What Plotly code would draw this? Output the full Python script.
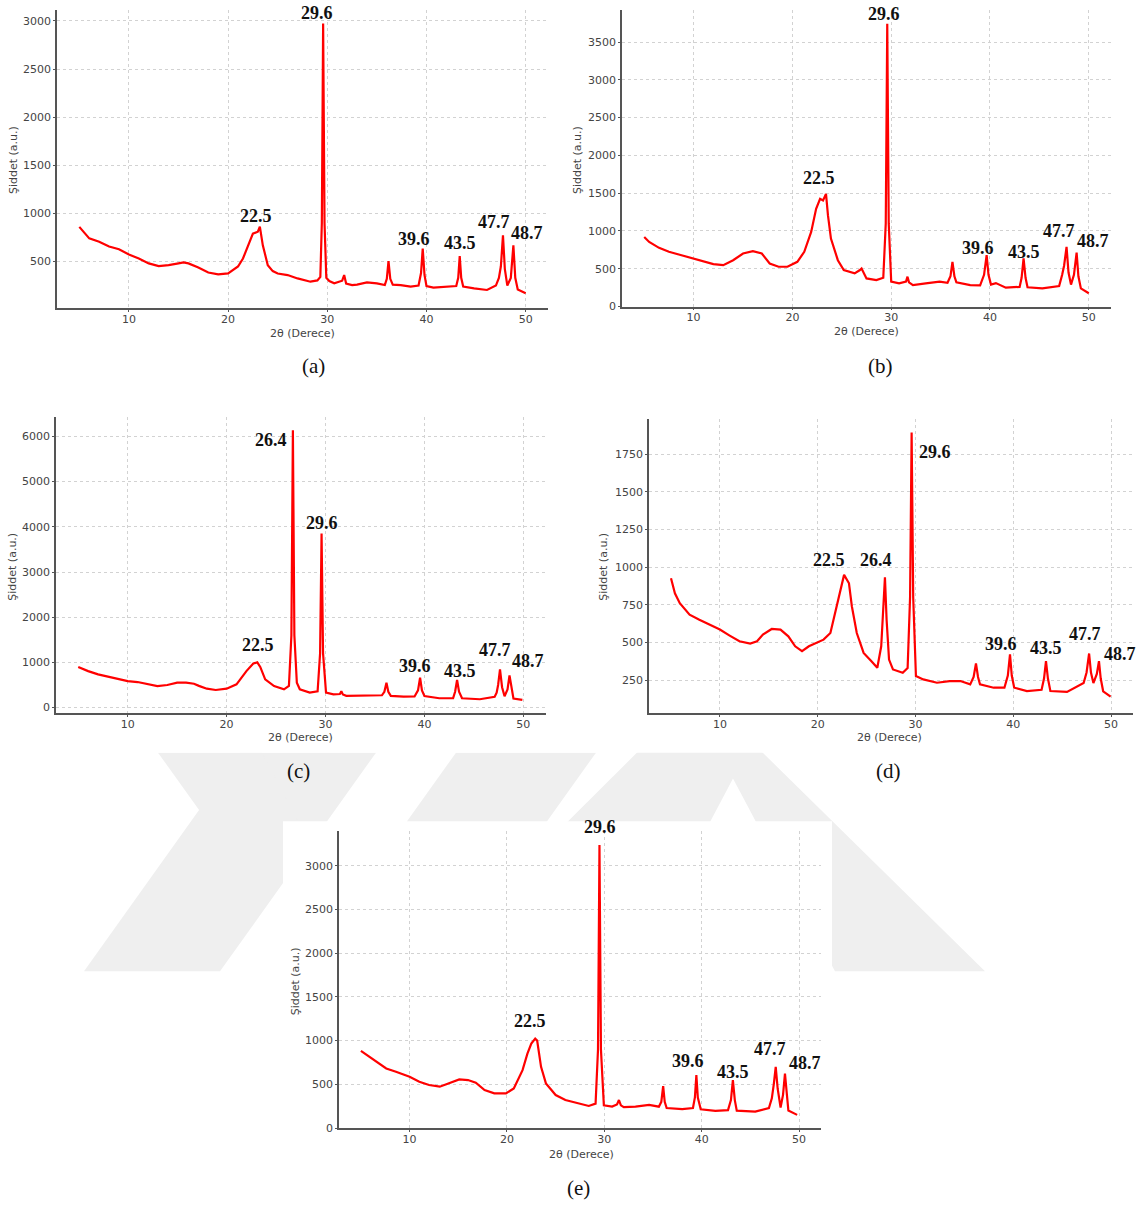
import plotly.graph_objects as go

W, H = 1147, 1212

# ---------------- data ----------------
theta_a = [5.0, 5.5, 6, 7, 8, 9, 10, 11, 12, 13, 14, 15, 15.5, 16, 17, 18, 19, 20, 21, 21.5, 22, 22.5, 23, 23.2, 23.5, 24, 24.5, 25, 26, 27, 28.3, 29.0, 29.3, 29.45, 29.58, 29.72, 29.9, 30.2, 30.7, 31.5, 31.7, 31.9, 32.5, 33.0, 34.0, 35.0, 35.8, 36.0, 36.17, 36.35, 36.6, 37.4, 38.4, 39.2, 39.45, 39.62, 39.8, 40.0, 40.7, 42.1, 43.0, 43.2, 43.35, 43.5, 43.7, 44.8, 46.1, 47.0, 47.3, 47.5, 47.71, 47.9, 48.15, 48.5, 48.76, 48.95, 49.2, 50.0]
int_a = [860, 800, 740, 706, 655, 627, 572, 531, 480, 452, 462, 480, 490, 480, 438, 386, 366, 376, 448, 531, 668, 789, 810, 862, 668, 462, 400, 375, 359, 324, 290, 303, 340, 900, 2973, 900, 330, 297, 273, 300, 359, 270, 255, 260, 283, 273, 255, 320, 503, 320, 260, 255, 238, 250, 380, 634, 360, 245, 228, 238, 245, 330, 555, 330, 240, 221, 204, 250, 330, 450, 772, 420, 250, 330, 668, 330, 210, 170]

theta_b = [5.0, 5.5, 6.5, 7.5, 8.5, 10, 11, 12, 13, 14, 15, 16, 16.9, 17.7, 18.6, 19.5, 20.5, 21.2, 21.9, 22.4, 22.8, 23.1, 23.4, 23.6, 23.9, 24.6, 25.2, 26.3, 26.8, 27.0, 27.5, 28.5, 29.2, 29.45, 29.6, 29.75, 30.0, 30.8, 31.5, 31.65, 31.8, 32.2, 33.5, 34.9, 35.7, 36.0, 36.2, 36.4, 36.6, 38.0, 39.0, 39.4, 39.66, 39.85, 40.1, 40.6, 41.6, 43.0, 43.2, 43.4, 43.6, 43.8, 45.3, 47.0, 47.3, 47.5, 47.75, 47.95, 48.2, 48.5, 48.77, 48.95, 49.2, 50.0]
int_b = [920, 855, 776, 724, 688, 635, 592, 561, 548, 613, 701, 732, 701, 570, 526, 526, 592, 724, 987, 1293, 1425, 1403, 1491, 1205, 899, 613, 482, 438, 480, 504, 372, 350, 380, 1100, 3741, 1100, 329, 307, 330, 395, 320, 284, 307, 329, 315, 400, 592, 400, 320, 284, 280, 420, 679, 420, 290, 310, 250, 260, 380, 636, 380, 255, 241, 270, 416, 540, 789, 450, 290, 420, 714, 400, 240, 175]

theta_c = [5.0, 6, 7, 8, 9, 10, 11, 12, 13, 14, 15, 15.9, 16.7, 17.2, 18, 18.9, 20, 21, 22, 22.7, 23.1, 23.4, 23.9, 24.8, 25.8, 26.3, 26.55, 26.7, 26.85, 27.1, 27.4, 28.4, 29.2, 29.45, 29.6, 29.75, 30.05, 30.8, 31.45, 31.6, 31.75, 32.1, 33.4, 34.8, 35.7, 35.95, 36.16, 36.35, 36.6, 37.9, 39.0, 39.35, 39.56, 39.75, 40.0, 41.5, 42.9, 43.1, 43.3, 43.5, 43.8, 45.6, 47.1, 47.3, 47.45, 47.64, 47.85, 48.1, 48.4, 48.6, 48.8, 49.0, 49.9]
int_c = [900, 807, 734, 682, 624, 587, 565, 514, 477, 499, 550, 550, 528, 480, 418, 389, 418, 514, 807, 976, 1000, 900, 624, 477, 404, 480, 1600, 6139, 1600, 550, 404, 330, 360, 1200, 3850, 1200, 330, 294, 300, 360, 290, 260, 270, 270, 272, 350, 550, 350, 260, 242, 245, 380, 660, 380, 255, 206, 210, 350, 609, 350, 206, 184, 240, 330, 500, 844, 450, 250, 400, 712, 400, 200, 169]

theta_d = [5.0, 5.4, 5.9, 6.9, 7.9, 8.9, 10, 11, 12, 13.1, 13.8, 14.4, 15.3, 16.2, 17.0, 17.7, 18.4, 19.1, 19.9, 20.6, 21.3, 21.8, 22.3, 22.7, 23.2, 23.5, 24.0, 24.7, 25.5, 26.1, 26.5, 26.7, 26.88, 27.05, 27.3, 27.7, 28.7, 29.2, 29.45, 29.61, 29.77, 30.05, 30.8, 32.2, 33.5, 34.6, 35.6, 35.95, 36.19, 36.4, 36.6, 38.0, 39.1, 39.45, 39.67, 39.85, 40.1, 41.4, 42.9, 43.15, 43.35, 43.55, 43.8, 45.5, 47.2, 47.5, 47.76, 47.95, 48.2, 48.55, 48.77, 48.95, 49.2, 49.96]
int_d = [925, 826, 760, 684, 650, 617, 585, 545, 507, 492, 507, 552, 589, 585, 540, 474, 441, 474, 496, 518, 562, 694, 837, 948, 892, 738, 562, 430, 375, 331, 474, 700, 932, 650, 386, 320, 298, 330, 800, 1893, 800, 276, 254, 232, 243, 243, 221, 270, 360, 270, 221, 199, 199, 280, 420, 280, 199, 177, 185, 260, 375, 260, 177, 171, 230, 300, 426, 300, 230, 290, 375, 260, 175, 140]

theta_e = [5.0, 5.5, 6.5, 7.6, 8.6, 10, 11, 12, 13.1, 14.1, 15.1, 16.0, 16.8, 17.7, 18.7, 19.9, 20.7, 21.6, 22.1, 22.5, 22.9, 23.1, 23.5, 24.0, 24.3, 25.0, 26.0, 27.4, 28.4, 29.1, 29.35, 29.5, 29.65, 29.95, 30.8, 31.3, 31.5, 31.7, 32.0, 33.2, 34.6, 35.6, 35.85, 36.04, 36.2, 36.4, 38.0, 39.1, 39.3, 39.45, 39.6, 39.9, 41.4, 42.7, 43.0, 43.2, 43.4, 43.6, 45.5, 46.9, 47.2, 47.4, 47.6, 47.8, 48.1, 48.35, 48.55, 48.75, 48.9, 49.8]
int_e = [882, 844, 775, 681, 644, 587, 530, 492, 473, 511, 556, 549, 519, 435, 397, 397, 454, 662, 851, 965, 1022, 1000, 700, 511, 473, 378, 321, 284, 253, 280, 900, 3235, 900, 260, 246, 270, 321, 260, 240, 245, 265, 245, 300, 481, 300, 230, 216, 230, 350, 605, 350, 215, 197, 205, 320, 549, 320, 200, 189, 230, 340, 500, 700, 450, 235, 380, 624, 380, 200, 151]

x_ticks = [10, 20, 30, 40, 50]
y_ticks_a = [500, 1000, 1500, 2000, 2500, 3000]
y_ticks_b = [0, 500, 1000, 1500, 2000, 2500, 3000, 3500]
y_ticks_c = [0, 1000, 2000, 3000, 4000, 5000, 6000]
y_ticks_d = [250, 500, 750, 1000, 1250, 1500, 1750]
y_ticks_e = [0, 500, 1000, 1500, 2000, 2500, 3000]

labels_a = ["22.5", "29.6", "39.6", "43.5", "47.7", "48.7"]
labels_b = ["22.5", "29.6", "39.6", "43.5", "47.7", "48.7"]
labels_c = ["26.4", "22.5", "29.6", "39.6", "43.5", "47.7", "48.7"]
labels_d = ["22.5", "26.4", "29.6", "39.6", "43.5", "47.7", "48.7"]
labels_e = ["22.5", "29.6", "39.6", "43.5", "47.7", "48.7"]

panel_names = ["(a)", "(b)", "(c)", "(d)", "(e)"]
x_title = "2θ (Derece)"
y_title = "Şiddet (a.u.)"

# ---------------- layout geometry (pixels) ----------------
def px(x):
    return x / W

def py(y):
    return 1 - y / H

panels = [
    dict(theta=theta_a, inten=int_a, yt=y_ticks_a, dom=(57, 548, 10, 310), yr=(14.5, 3114),
         labels=labels_a, lpos=[(256, 217), (316.7, 13), (414, 240), (459.5, 244), (494, 223), (527, 234)],
         xt=(302, 335), ytp=(13, 161), name=(313, 368)),
    dict(theta=theta_b, inten=int_b, yt=y_ticks_b, dom=(622, 1111, 10, 308.3), yr=(0, 3925),
         labels=labels_b, lpos=[(819, 179), (884, 14), (978, 249), (1024, 253), (1059, 232), (1093, 242)],
         xt=(866, 333), ytp=(577, 161), name=(880, 368)),
    dict(theta=theta_c, inten=int_c, yt=y_ticks_c, dom=(56, 545.6, 419.3, 717), yr=(-117, 6433),
         labels=labels_c, lpos=[(271, 443), (258, 649), (321.8, 526), (415, 670), (459.5, 675), (494.5, 654), (527.5, 665)],
         xt=(300, 742), ytp=(13, 570), name=(298, 775)),
    dict(theta=theta_d, inten=int_d, yt=y_ticks_d, dom=(649, 1133, 421.7, 717.3), yr=(30, 1981),
         labels=labels_d, lpos=[(829, 563), (876, 563), (935, 455), (1001, 648), (1046, 652), (1085, 638), (1120, 658)],
         xt=(890, 742), ytp=(604, 570), name=(888, 775)),
    dict(theta=theta_e, inten=int_e, yt=y_ticks_e, dom=(339, 821, 836, 1135), yr=(-4, 3394),
         labels=labels_e, lpos=[(530, 1027), (600, 832), (688, 1067), (733, 1078), (770, 1055), (805, 1069)],
         xt=(581, 1161), ytp=(295, 987), name=(578, 1195)),
]

fig = go.Figure()
layout = dict(
    width=W, height=H, autosize=False,
    margin=dict(l=0, r=0, t=0, b=0),
    paper_bgcolor="white", plot_bgcolor="rgba(0,0,0,0)",
    showlegend=False,
)
annotations = []
tickfont = dict(family="DejaVu Sans", size=11, color="#444444")
axis_common = dict(
    showgrid=True, gridcolor="#d2d2d2", griddash="dot", gridwidth=1,
    showline=True, linecolor="#555555", linewidth=1.5,
    ticks="outside", ticklen=2, tickwidth=1, tickcolor="#555555",
    tickfont=tickfont, zeroline=False, fixedrange=True,
)

for i, p in enumerate(panels):
    n = "" if i == 0 else str(i + 1)
    x0, x1, y0, y1 = p["dom"]
    fig.add_trace(go.Scatter(
        x=p["theta"], y=p["inten"], mode="lines",
        line=dict(color="#ff0000", width=2.2),
        xaxis="x" + n, yaxis="y" + n, hoverinfo="skip",
    ))
    layout["xaxis" + n] = dict(axis_common, domain=[px(x0), px(x1)], range=[2.75, 52.25],
                               tickvals=x_ticks, anchor="y" + n, ticklabelstandoff=-2)
    layout["yaxis" + n] = dict(axis_common, domain=[py(y1), py(y0)], range=list(p["yr"]),
                               tickvals=p["yt"], anchor="x" + n)
    for lab, (lx, ly) in zip(p["labels"], p["lpos"]):
        annotations.append(dict(text="<b>%s</b>" % lab, x=px(lx), y=py(ly), xref="paper", yref="paper",
                                xanchor="center", yanchor="middle", showarrow=False,
                                font=dict(family="Liberation Serif", size=18, color="#111111")))
    annotations.append(dict(text=x_title, x=px(p["xt"][0]), y=py(p["xt"][1]), xref="paper", yref="paper",
                            xanchor="center", yanchor="middle", showarrow=False,
                            font=dict(family="DejaVu Sans", size=11, color="#444444")))
    annotations.append(dict(text=y_title, x=px(p["ytp"][0]), y=py(p["ytp"][1]), xref="paper", yref="paper",
                            xanchor="center", yanchor="middle", showarrow=False, textangle=-90,
                            font=dict(family="DejaVu Sans", size=11, color="#444444")))
    annotations.append(dict(text=panel_names[i], x=px(p["name"][0]), y=py(p["name"][1]), xref="paper", yref="paper",
                            xanchor="center", yanchor="middle", showarrow=False,
                            font=dict(family="Liberation Serif", size=21, color="#111111")))

# ---------------- faint background watermark ----------------
def poly(points, color):
    d = "M " + " L ".join("%f,%f" % (px(a), py(b)) for a, b in points) + " Z"
    return dict(type="path", path=d, xref="paper", yref="paper", layer="below",
                fillcolor=color, line=dict(width=0))

wm = "#efefef"
shapes = [
    poly([(84, 977), (220, 977), (376, 757), (240, 757)], wm),
    poly([(158, 757), (262, 757), (300, 830), (210, 830)], wm),
    poly([(300, 977), (440, 977), (596, 757), (456, 757)], wm),
    poly([(417, 977), (699.5, 694.5), (985, 977), (835, 977), (733, 783), (631, 977)], wm),
]
white = "white"
for (a, b, c, d) in [(0, 400, 1147, 757), (283, 826, 832, 1140)]:
    shapes.append(dict(type="rect", xref="paper", yref="paper", layer="below",
                       x0=px(a), x1=px(c), y0=py(d), y1=py(b), fillcolor=white, line=dict(width=0)))

layout["annotations"] = annotations
layout["shapes"] = shapes
fig.update_layout(**layout)
fig.write_html("out.html")
